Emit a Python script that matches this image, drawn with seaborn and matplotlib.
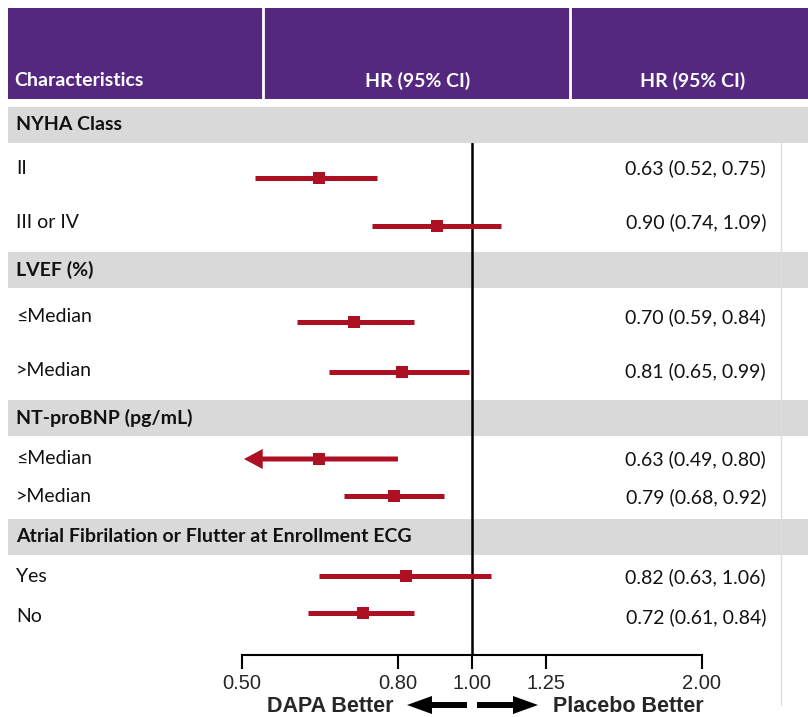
import numpy as np
import pandas as pd
import matplotlib
matplotlib.use("Agg")
import matplotlib.pyplot as plt
import seaborn as sns

sns.set_theme(style="white")
plt.rcParams["font.family"] = ["Lato", "DejaVu Sans"]

# data
sections = ["NYHA Class", "LVEF (%)", "NT-proBNP (pg/mL)",
            "Atrial Fibrilation or Flutter at Enrollment ECG"]
labels = ["II", "III or IV", "\u2264Median", ">Median", "\u2264Median", ">Median", "Yes", "No"]
hr = [0.63, 0.90, 0.70, 0.81, 0.63, 0.79, 0.82, 0.72]
lo = [0.52, 0.74, 0.59, 0.65, 0.49, 0.68, 0.63, 0.61]
hi = [0.75, 1.09, 0.84, 0.99, 0.80, 0.92, 1.06, 0.84]
ticks = [0.50, 0.80, 1.00, 1.25, 2.00]

df = pd.DataFrame({"label": labels, "hr": hr, "lo": lo, "hi": hi})
df["txt"] = [f"{h:.2f} ({l:.2f}, {u:.2f})" for h, l, u in zip(hr, lo, hi)]

# layout (pixel rows)
sec_y = [125, 270, 418, 537]
lab_y = [168, 222, 317, 371, 459, 497, 577, 617]
bar_y = [178, 226, 322, 372, 459, 496, 576, 613]
df["y"] = bar_y

W, H = 808, 717
purple = "#55287F"
red = "#AD0F23"
grey = "#D9D9D9"
fs = 14

fig = plt.figure(figsize=(W / 100, H / 100), dpi=100)
bg = fig.add_axes([0, 0, 1, 1])
bg.set_xlim(0, W); bg.set_ylim(H, 0); bg.axis("off")

# header
bg.add_patch(plt.Rectangle((8, 8), W - 8, 91, color=purple, lw=0))
for xd in [263, 570]:
    bg.plot([xd, xd], [8, 99], color="white", lw=2)
bg.text(14, 81, "Characteristics", color="white", fontsize=fs, fontweight="bold", va="center")
bg.text(418, 81, "HR (95% CI)", color="white", fontsize=fs, fontweight="bold", va="center", ha="center")
bg.text(693, 81, "HR (95% CI)", color="white", fontsize=fs, fontweight="bold", va="center", ha="center")

# section rows
for s, y in zip(sections, sec_y):
    bg.add_patch(plt.Rectangle((8, y - 18), W - 8, 36, color=grey, lw=0))
    bg.text(16, y, s, fontsize=fs, fontweight="bold", va="center", color="#111111")

for lab, y, t in zip(labels, lab_y, df["txt"]):
    bg.text(16, y, lab, fontsize=fs, va="center", color="#111111")
    bg.text(766, y, t, fontsize=fs, va="center", ha="right", color="#111111")

bg.plot([781, 781], [143, 705], color="#DDDDDD", lw=1)

# forest axes
x0, x1 = 242, 702
ytop, ybot = 143, 655
ax = fig.add_axes([x0 / W, (H - ybot) / H, (x1 - x0) / W, (ybot - ytop) / H])
ax.patch.set_alpha(0)
ax.set_xscale("log")
ax.set_xlim(0.5, 2.0)
ax.set_ylim(ybot, ytop)
for sp in ["top", "right", "left"]:
    ax.spines[sp].set_visible(False)
ax.spines["bottom"].set_color("black")
ax.spines["bottom"].set_linewidth(1.5)
ax.set_yticks([])
ax.set_xticks(ticks)
ax.set_xticks([], minor=True)
ax.set_xticklabels([f"{t:.2f}" for t in ticks], family="Liberation Sans", fontsize=14.5)
ax.tick_params(axis="x", direction="out", length=10, width=1.5, color="black", pad=4, bottom=True)
ax.axvline(1.0, color="black", lw=1.8, zorder=1)

for _, r in df.iterrows():
    if r["lo"] < 0.5:
        ax.annotate("", xy=(0.503, r["y"]), xytext=(r["hi"], r["y"]),
                    arrowprops=dict(arrowstyle="simple,head_length=1.35,head_width=1.45,tail_width=0.36",
                                    mutation_scale=10, color=red, lw=0, shrinkA=0, shrinkB=0),
                    zorder=2)
    else:
        ax.plot([r["lo"], r["hi"]], [r["y"], r["y"]], color=red, lw=3.6,
                solid_capstyle="butt", zorder=2)
sns.scatterplot(data=df, x="hr", y="y", marker="s", s=80, color=red,
                edgecolor=red, linewidth=0, ax=ax, zorder=3, legend=False)
ax.set_xlabel(""); ax.set_ylabel("")

# bottom direction labels
bg.text(330, 706, "DAPA Better", fontsize=15.5, fontweight="bold", family="Liberation Sans",
        ha="center", va="center")
bg.text(628, 706, "Placebo Better", fontsize=15.5, fontweight="bold", family="Liberation Sans",
        ha="center", va="center")
arr = dict(arrowstyle="simple,head_length=1.8,head_width=1.3,tail_width=0.43",
           mutation_scale=10, color="black", lw=0, shrinkA=0, shrinkB=0)
bg.annotate("", xy=(407, 705), xytext=(467, 705), arrowprops=arr)
bg.annotate("", xy=(538, 705), xytext=(477, 705), arrowprops=arr)

fig.savefig("out.png", dpi=100)
plt.close("all")
